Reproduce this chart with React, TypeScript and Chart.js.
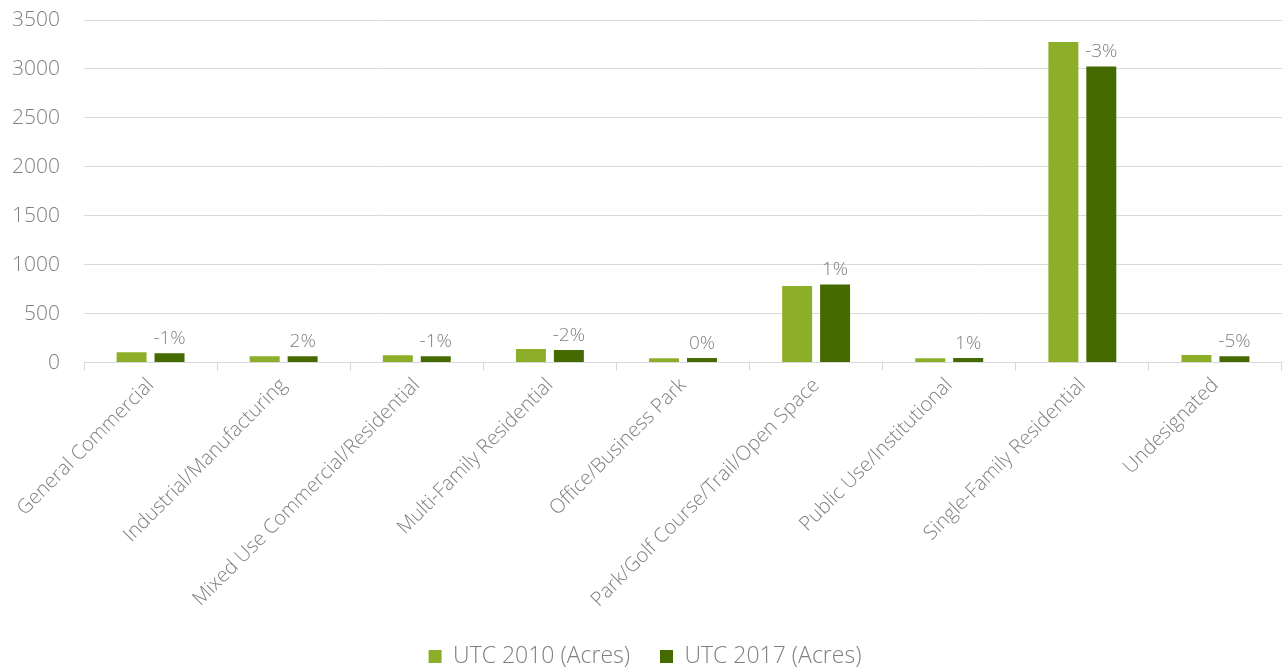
import React, { useEffect, useRef } from "react";
import { Chart, registerables } from "chart.js";

Chart.register(...registerables);

const categories = [
  "General Commercial",
  "Industrial/Manufacturing",
  "Mixed Use Commercial/Residential",
  "Multi-Family Residential",
  "Office/Business Park",
  "Park/Golf Course/Trail/Open Space",
  "Public Use/Institutional",
  "Single-Family Residential",
  "Undesignated",
];
const utc2010 = [105, 65, 75, 140, 44, 783, 44, 3274, 78];
const utc2017 = [96, 65, 66, 130, 47, 797, 47, 3026, 66];
const changeLabels = ["-1%", "2%", "-1%", "-2%", "0%", "1%", "1%", "-3%", "-5%"];
const yTicks = [0, 500, 1000, 1500, 2000, 2500, 3000, 3500];

const FONT = "'Open Sans', 'Lato', sans-serif";
const TEXT = "#7f7f7f";

const pctPlugin = {
  id: "pctLabels",
  afterDatasetsDraw(chart: any) {
    const meta = chart.getDatasetMeta(1);
    const ctx = chart.ctx;
    ctx.save();
    ctx.font = `300 19px ${FONT}`;
    ctx.fillStyle = TEXT;
    ctx.textAlign = "center";
    ctx.textBaseline = "bottom";
    meta.data.forEach((bar: any, i: number) => {
      ctx.fillText(changeLabels[i], bar.x, bar.y - 5);
    });
    ctx.restore();
  },
};

export default function App() {
  const ref = useRef<HTMLCanvasElement | null>(null);
  useEffect(() => {
    document.body.style.margin = "0";
    const chart = new Chart(ref.current!, {
      type: "bar",
      data: {
        labels: categories,
        datasets: [
          {
            label: "UTC 2010 (Acres)",
            data: utc2010,
            backgroundColor: "#8CAE29",
            barPercentage: 0.79,
            categoryPercentage: 0.57,
          },
          {
            label: "UTC 2017 (Acres)",
            data: utc2017,
            backgroundColor: "#446A00",
            barPercentage: 0.79,
            categoryPercentage: 0.57,
          },
        ],
      },
      options: {
        animation: false,
        responsive: false,
        maintainAspectRatio: false,
        layout: { padding: { top: 20, right: 3, left: 8, bottom: -10 } },
        plugins: {
          tooltip: { enabled: false },
          legend: {
            position: "bottom",
            labels: {
              font: { family: FONT, size: 23, weight: "300" as any },
              color: TEXT,
              boxWidth: 13,
              boxHeight: 13,
              padding: 30,
            },
          },
        },
        scales: {
          x: {
            afterFit: (axis: any) => {
              axis.paddingLeft = 0;
              axis.paddingRight = 0;
            },
            grid: {
              drawOnChartArea: false,
              drawTicks: true,
              tickLength: 8,
              offset: true,
              color: "#d9d9d9",
            },
            border: { display: true, color: "#d9d9d9" },
            ticks: {
              font: { family: FONT, size: 20, weight: "300" as any },
              color: TEXT,
              maxRotation: 45,
              minRotation: 45,
              autoSkip: false,
            },
          },
          y: {
            min: 0,
            max: 3500,
            afterFit: (axis: any) => {
              axis.paddingTop = 0;
              axis.paddingBottom = 0;
              axis.width = 76;
            },
            afterBuildTicks: (axis: any) => {
              axis.ticks = yTicks.map((v) => ({ value: v }));
            },
            grid: { color: "#d9d9d9", drawTicks: false },
            border: { display: false },
            ticks: {
              font: { family: FONT, size: 21, weight: "300" as any },
              color: TEXT,
              padding: 24,
              callback: (v: any) => String(v),
            },
          },
        },
      },
      plugins: [pctPlugin],
    });
    return () => chart.destroy();
  }, []);
  return <canvas ref={ref} width={1285} height={668} style={{ display: "block" }} />;
}
